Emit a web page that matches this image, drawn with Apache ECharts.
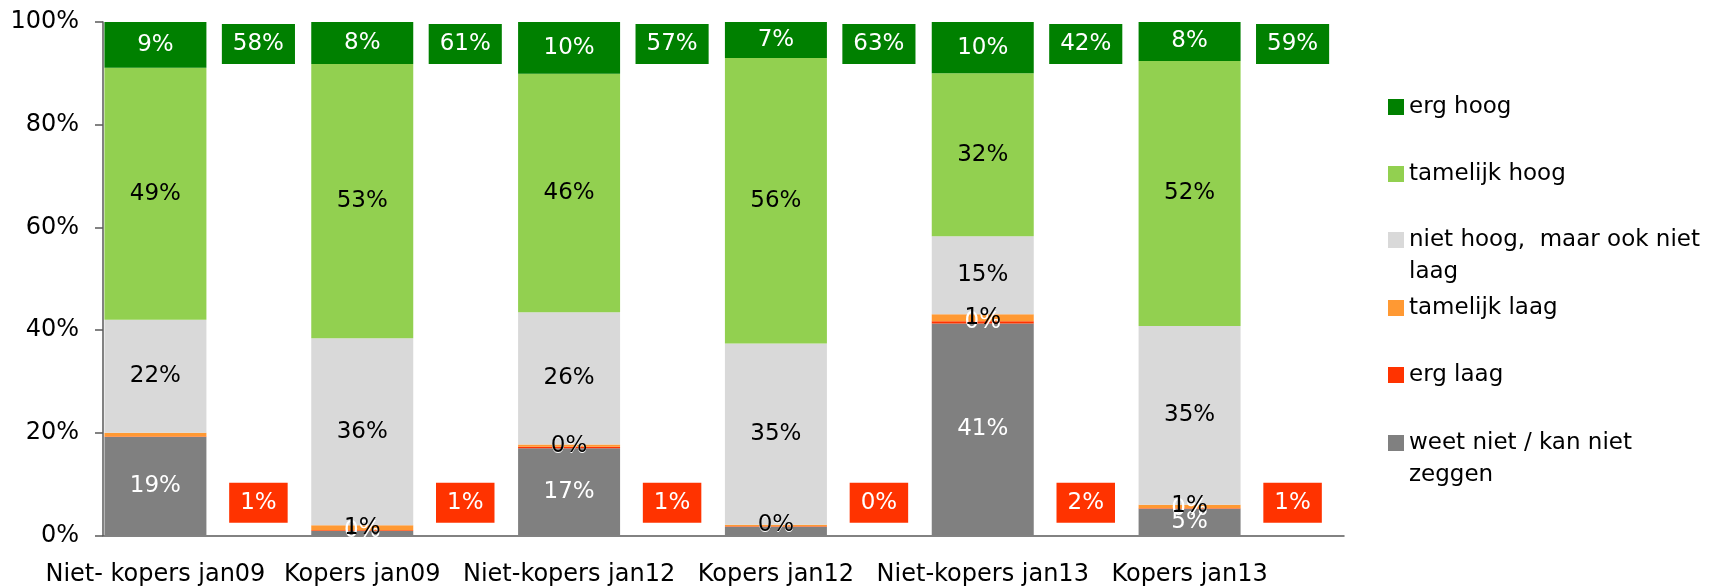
<!DOCTYPE html>
<html>
<head>
<meta charset="utf-8">
<script src="https://cdn.jsdelivr.net/npm/echarts@6/dist/echarts.min.js"></script>
<style>
    html, body { margin: 0; padding: 0; background: #fff; }
    #main { width: 1712px; height: 587px; }
</style>
</head>
<body>
<div id="main"></div>
<script>
    // categorieen en waarden (in %), gelezen uit de grafiek
    const categories = ['Niet- kopers jan09', 'Kopers jan09', 'Niet-kopers jan12', 'Kopers jan12', 'Niet-kopers jan13', 'Kopers jan13'];
    const weetNiet     = [19.2, 0.9, 17.0, 1.7, 41.3, 5.2];
    const ergLaag      = [0.1, 0.1, 0.3, 0.1, 0.4, 0.1];
    const tamelijkLaag = [0.7, 1.0, 0.4, 0.3, 1.4, 0.7];
    const nietHoog     = [22.0, 36.4, 25.8, 35.3, 15.2, 34.8];
    const tamelijkHoog = [49.1, 53.4, 46.4, 55.6, 31.7, 51.6];
    const ergHoog      = [8.9, 8.2, 10.1, 7.0, 10.0, 7.6];
    // totalen in de kaders
    const hoogTotaal = [58, 61, 57, 63, 42, 59];
    const laagTotaal = [1, 1, 1, 0, 2, 1];
    const yTicks = [0, 20, 40, 60, 80, 100];

    const FONT = 'DejaVu Sans';
    const chart = echarts.init(document.getElementById('main'));

    // van onder naar boven gestapeld
    const defs = [
        {name: 'weet niet / kan niet zeggen', data: weetNiet, color: '#808080', text: '#ffffff', hide: [1, 3]},
        {name: 'erg laag', data: ergLaag, color: '#FF3300', text: '#ffffff', hide: [0]},
        {name: 'tamelijk laag', data: tamelijkLaag, color: '#FF9933', text: '#000000', hide: [0]},
        {name: 'niet hoog,  maar ook niet laag', data: nietHoog, color: '#D9D9D9', text: '#000000', hide: []},
        {name: 'tamelijk hoog', data: tamelijkHoog, color: '#92D050', text: '#000000', hide: []},
        {name: 'erg hoog', data: ergHoog, color: '#008000', text: '#ffffff', hide: []}
    ];

    const series = defs.map(d => ({
        name: d.name,
        type: 'bar',
        stack: 'totaal',
        barWidth: 102,
        barGap: 0,
        itemStyle: {color: d.color},
        label: {
            show: true,
            position: 'inside',
            color: d.text,
            fontFamily: FONT,
            fontSize: 23,
            formatter: p => Math.round(p.value) + '%'
        },
        data: d.data.map((v, i) => d.hide.includes(i) ? {value: v, label: {show: false}} : v)
    }));

    // lege kolom rechts van iedere staaf, daar staan de kaders
    series.push({
        name: 'ruimte',
        type: 'bar',
        stack: 'kader',
        barWidth: 102,
        barGap: 0,
        silent: true,
        itemStyle: {color: 'transparent'},
        data: categories.map(() => 0)
    });

    function kader(name, totals, y, bg) {
        return {
            name: name,
            type: 'scatter',
            symbol: 'rect',
            symbolSize: 1,
            silent: true,
            itemStyle: {color: 'transparent', opacity: 1},
            label: {
                show: true,
                position: 'inside',
                offset: [52, 0],
                backgroundColor: bg,
                padding: [9, 11],
                lineHeight: 22,
                color: '#ffffff',
                fontFamily: FONT,
                fontSize: 23,
                formatter: p => totals[p.dataIndex] + '%'
            },
            data: totals.map((t, i) => [i, y])
        };
    }
    series.push(kader('hoog totaal', hoogTotaal, 95.7, '#008000'));
    series.push(kader('laag totaal', laagTotaal, 6.4, '#FF3300'));

    // legenda: een per item zodat de afstanden gelijk blijven
    const legendRows = [
        {name: 'erg hoog', top: 95},
        {name: 'tamelijk hoog', top: 162},
        {name: 'niet hoog,  maar ook niet laag', top: 192, wrap: true},
        {name: 'tamelijk laag', top: 296},
        {name: 'erg laag', top: 363},
        {name: 'weet niet / kan niet zeggen', top: 395, wrap: true}
    ];
    // lege eerste regel, zodat het blokje naast de eerste tekstregel staat
    const wrapped = {
        'niet hoog,  maar ook niet laag': '\nniet hoog,  maar ook niet\nlaag',
        'weet niet / kan niet zeggen': '\nweet niet / kan niet\nzeggen'
    };
    const legend = legendRows.map(r => ({
        data: [r.name],
        orient: 'vertical',
        left: 1388,
        top: r.top,
        padding: 0,
        icon: 'rect',
        itemWidth: 16,
        itemHeight: 16,
        selectedMode: false,
        formatter: n => wrapped[n] || n,
        textStyle: {
            fontFamily: FONT,
            fontSize: 23,
            color: '#000',
            lineHeight: r.wrap ? 32 : 24
        }
    }));

    const option = {
        animation: false,
        backgroundColor: '#fff',
        grid: {left: 103, right: 368, top: 22, bottom: 51.5},
        legend: legend,
        xAxis: {
            type: 'category',
            data: categories,
            axisTick: {show: false},
            axisLine: {lineStyle: {color: '#595959', width: 1.5}},
            axisLabel: {
                interval: 0,
                color: '#000',
                fontFamily: FONT,
                fontSize: 24,
                margin: 27,
                padding: [0, 102, 0, 0]
            }
        },
        yAxis: {
            type: 'value',
            min: yTicks[0],
            max: yTicks[yTicks.length - 1],
            interval: yTicks[1] - yTicks[0],
            splitLine: {show: false},
            axisLine: {show: true, lineStyle: {color: '#595959', width: 1.5}},
            axisTick: {show: true, length: 8, lineStyle: {color: '#595959', width: 1.5}},
            axisLabel: {
                color: '#000',
                fontFamily: FONT,
                fontSize: 24,
                margin: 24,
                formatter: '{value}%'
            }
        },
        series: series
    };
    chart.setOption(option);
</script>
</body>
</html>
